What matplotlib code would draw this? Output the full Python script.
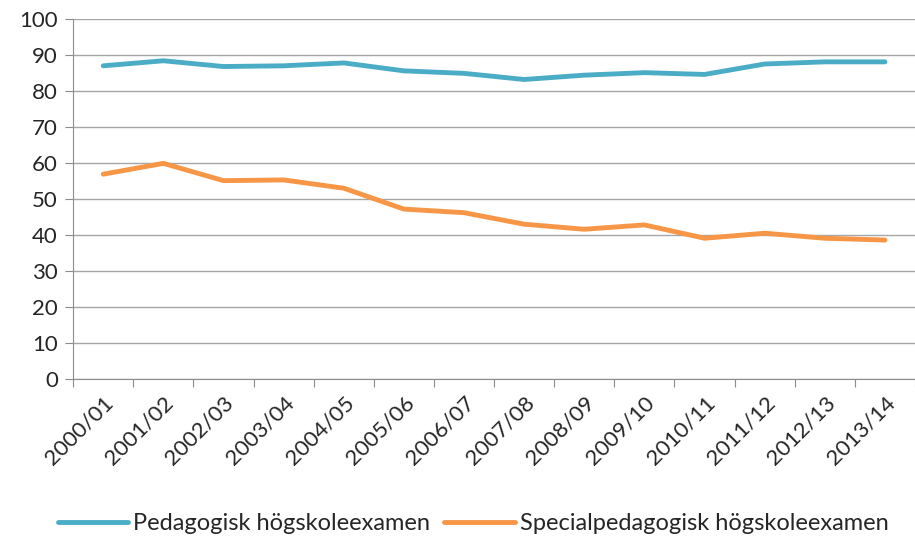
import numpy as np
import matplotlib.pyplot as plt

# data
years = ["2000/01", "2001/02", "2002/03", "2003/04", "2004/05", "2005/06", "2006/07",
         "2007/08", "2008/09", "2009/10", "2010/11", "2011/12", "2012/13", "2013/14"]
pedagogisk = [87.0, 88.4, 86.8, 87.0, 87.8, 85.6, 84.9,
              83.2, 84.4, 85.1, 84.6, 87.5, 88.1, 88.1]
specialped = [56.9, 59.9, 55.1, 55.3, 53.0, 47.2, 46.2,
              43.0, 41.6, 42.8, 39.1, 40.5, 39.1, 38.6]

plt.rcParams['font.family'] = ['Lato', 'DejaVu Sans']

fig = plt.figure(figsize=(9.15, 5.43), dpi=100)
ax = fig.add_axes([0.08, 0.302, 0.92, 0.663])

x = np.arange(len(years))
ax.plot(x, pedagogisk, color="#4BACC6", lw=3.5, solid_capstyle="round",
        label="Pedagogisk högskoleexamen")
ax.plot(x, specialped, color="#F79646", lw=3.5, solid_capstyle="round",
        label="Specialpedagogisk högskoleexamen")

ax.set_xlim(-0.5, len(years) - 0.5)
ax.set_ylim(0, 100)
ax.set_yticks(np.arange(0, 101, 10))
ax.yaxis.grid(True, color="#A6A6A6", lw=1)
ax.set_axisbelow(True)

# ticks on category boundaries, labels centred on categories
ax.set_xticks(np.arange(-0.5, len(years), 1.0))
ax.set_xticklabels([])
ax.set_xticks(x, minor=True)
ax.set_xticklabels(years, minor=True, rotation=45, ha="right",
                   rotation_mode="anchor", fontsize=16, color="#262626")
ax.tick_params(axis="x", which="major", length=6, color="#8C8C8C")
ax.tick_params(axis="x", which="minor", length=0, pad=10)
ax.tick_params(axis="y", length=6, color="#8C8C8C", labelsize=16,
               labelcolor="#262626", pad=5)

for s in ["top", "right"]:
    ax.spines[s].set_visible(False)
for s in ["left", "bottom"]:
    ax.spines[s].set_color("#8C8C8C")

fig.legend(*ax.get_legend_handles_labels(), loc="center",
           bbox_to_anchor=(0.517, 0.035), ncol=2, frameon=False,
           fontsize=17, handlelength=3.0, handletextpad=0.2, columnspacing=0.6,
           labelcolor="#262626")

fig.savefig("out.png", dpi=100)
